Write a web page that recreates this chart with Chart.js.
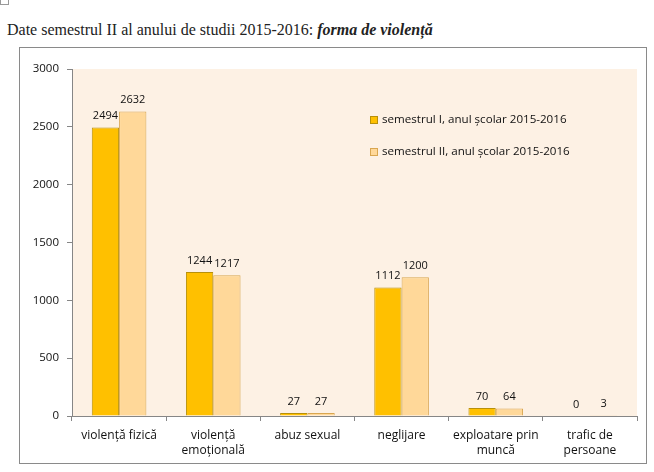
<!DOCTYPE html>
<html>
<head>
<meta charset="utf-8">
<script src="https://cdn.jsdelivr.net/npm/chart.js@4"></script>
<style>
  body { margin: 0; background: #fff; width: 654px; height: 472px; position: relative; overflow: hidden; }
  #chk { position: absolute; left: 0; top: -4px; width: 7px; height: 7px; border: 1px solid #999; }
  #title { position: absolute; left: 7px; top: 21px; font-family: "Liberation Serif", serif; font-size: 16px; color: #222; white-space: nowrap; }
  #box { position: absolute; left: 19px; top: 47px; width: 626px; height: 415px; border: 1px solid #8a8a8a; }
  canvas { display: block; }
</style>
</head>
<body>
<div id="chk"></div>
<div id="title">Date semestrul II al anului de studii 2015-2016: <b><i>forma de violență</i></b></div>
<div id="box"><canvas id="chart" width="626" height="415"></canvas></div>
<script>
const categories = [
    ['violență fizică'],
    ['violență', 'emoțională'],
    ['abuz sexual'],
    ['neglijare'],
    ['exploatare prin', 'muncă'],
    ['trafic de', 'persoane']
];
const seriesNames = ['semestrul I, anul școlar 2015-2016', 'semestrul II, anul școlar 2015-2016'];
const sem1 = [2494, 1244, 27, 1112, 70, 0];
const sem2 = [2632, 1217, 27, 1200, 64, 3];
const yTicks = [0, 500, 1000, 1500, 2000, 2500, 3000];

const fontFam = '"Open Sans", "DejaVu Sans", sans-serif';

// peach background behind the plot
const plotBg = {
    id: 'plotBg',
    beforeDraw(chart) {
        const a = chart.chartArea, ctx = chart.ctx;
        ctx.save();
        ctx.fillStyle = '#fdf1e4';
        ctx.fillRect(a.left, a.top, a.right - a.left, a.bottom - a.top);
        ctx.restore();
    }
};

// numbers above the bars
const valueLabels = {
    id: 'valueLabels',
    afterDatasetsDraw(chart) {
        const ctx = chart.ctx;
        ctx.save();
        ctx.font = '11px ' + fontFam;
        ctx.fillStyle = '#111';
        ctx.textAlign = 'center';
        ctx.textBaseline = 'bottom';
        chart.data.datasets.forEach((ds, i) => {
            chart.getDatasetMeta(i).data.forEach((bar, j) => {
                ctx.fillText(String(ds.data[j]), bar.x, bar.y - 6);
            });
        });
        ctx.restore();
    }
};

// legend sitting inside the plot
const innerLegend = {
    id: 'innerLegend',
    afterDraw(chart) {
        const a = chart.chartArea, ctx = chart.ctx;
        ctx.save();
        ctx.font = '11.6px ' + fontFam;
        ctx.textBaseline = 'middle';
        chart.data.datasets.forEach((ds, i) => {
            const x = a.left + 298, y = a.top + 51 + i * 32;
            ctx.fillStyle = ds.backgroundColor;
            ctx.fillRect(x, y - 4, 8, 8);
            ctx.strokeStyle = ds.borderColor;
            ctx.lineWidth = 1;
            ctx.strokeRect(x + 0.5, y - 3.5, 7, 7);
            ctx.fillStyle = '#111';
            ctx.fillText(ds.label, x + 12, y);
        });
        ctx.restore();
    }
};

new Chart(document.getElementById('chart').getContext('2d'), {
    type: 'bar',
    data: {
        labels: categories,
        datasets: [
            { label: seriesNames[0], data: sem1, backgroundColor: '#ffc000', borderColor: '#b8900a', borderWidth: 1 },
            { label: seriesNames[1], data: sem2, backgroundColor: '#ffd899', borderColor: '#d9a650', borderWidth: 1 }
        ]
    },
    options: {
        responsive: false,
        animation: false,
        layout: { padding: { top: 21, right: 9, left: 0, bottom: 0 } },
        plugins: { legend: { display: false }, tooltip: { enabled: false } },
        datasets: { bar: { categoryPercentage: 0.58, barPercentage: 1 } },
        scales: {
            x: {
                grid: { drawOnChartArea: false, drawTicks: true, tickLength: 5, color: '#868686' },
                border: { color: '#868686' },
                ticks: { color: '#111', font: { family: fontFam, size: 12, lineHeight: 1.25 }, maxRotation: 0, padding: 7 },
                afterFit(scale) { scale.height = 47; }
            },
            y: {
                min: 0, max: 3000,
                afterBuildTicks(scale) { scale.ticks = yTicks.map(v => ({ value: v })); },
                grid: { drawOnChartArea: false, drawTicks: true, tickLength: 5, color: '#868686' },
                border: { color: '#868686' },
                ticks: { color: '#111', font: { family: fontFam, size: 11.5 }, padding: 8, callback: v => String(v) },
                afterFit(scale) { scale.width = 52; }
            }
        }
    },
    plugins: [plotBg, valueLabels, innerLegend]
});
</script>
</body>
</html>
